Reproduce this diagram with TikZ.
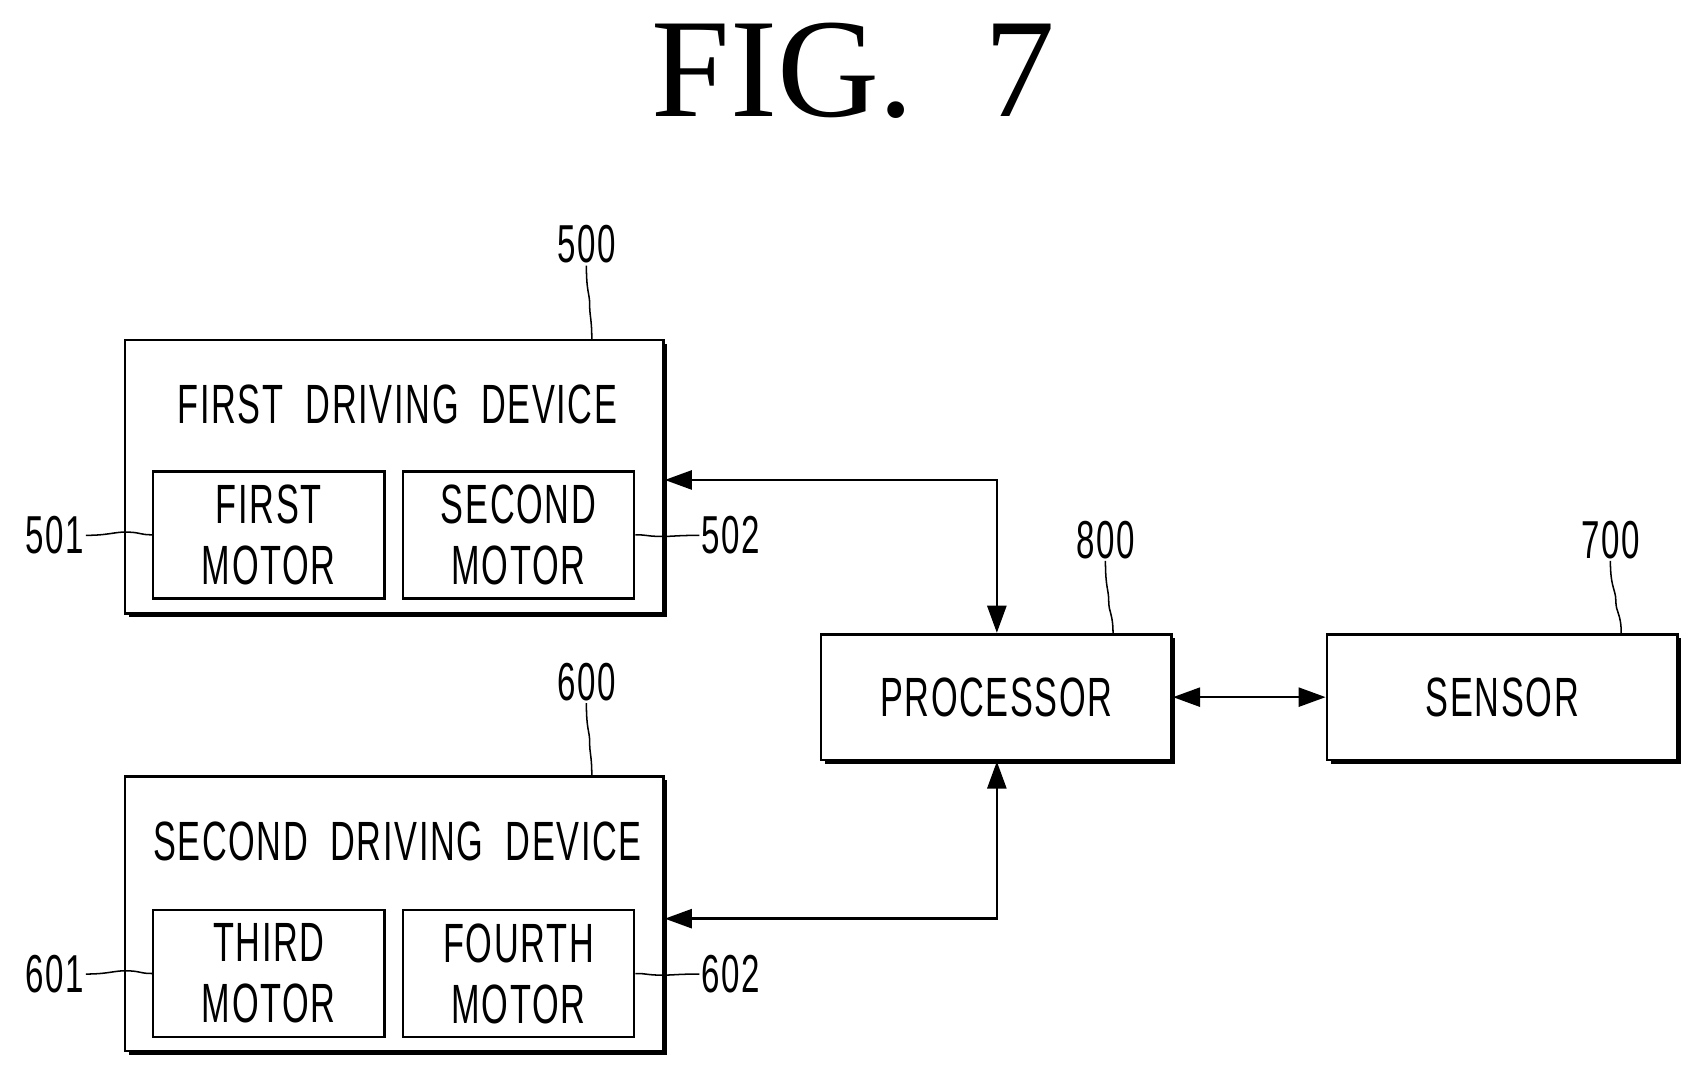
\documentclass[tikz,border=0pt]{standalone}
\usepackage{fontspec}
\setmainfont{Liberation Sans}[FakeStretch=0.62,LetterSpace=3]
\newfontfamily\titlefont{Liberation Serif}
\usetikzlibrary{shadows,arrows.meta}
\begin{document}
\begin{tikzpicture}[x=0.02cm,y=-0.02cm,
  box/.style={draw,line width=1.4pt,fill=white,inner sep=0pt,
    drop shadow={shadow xshift=0.07cm,shadow yshift=-0.07cm,fill=black,opacity=1}},
  mbox/.style={draw,line width=1.4pt,fill=white,inner sep=0pt,minimum width=4.26cm,minimum height=2.34cm,align=center,font=\fontsize{29}{32}\selectfont},
  txt/.style={font=\fontsize{29}{32}\selectfont,inner sep=0pt},
  lab/.style={font=\fontsize{28}{30}\selectfont,inner sep=1pt},
  sq/.style={line width=0.8pt},
  arr/.style={line width=1.4pt,{Triangle[length=0.5cm,width=0.35cm]}-{Triangle[length=0.5cm,width=0.35cm]}}]
\useasboundingbox (0,0) rectangle (1560,987);
\node[inner sep=0pt,font=\titlefont\fontsize{74}{80}\selectfont] (title) at (786,65) {FIG.\ \ 7};
% first device
\node[box,minimum width=9.92cm,minimum height=5.04cm] (d5) at (363,439) {};
\node[txt] (d5t) at (366,372) {FIRST\ \ DRIVING\ \ DEVICE};
\node[mbox] (m1) at (247.5,492.5) {FIRST\\MOTOR};
\node[mbox] (m2) at (477.5,492.5) {SECOND\\MOTOR};
% second device
\node[box,minimum width=9.92cm,minimum height=5.06cm] (d6) at (363,841.5) {};
\node[txt] (d6t) at (366,775) {SECOND\ \ DRIVING\ \ DEVICE};
\node[mbox] (m3) at (247.5,896.5) {THIRD\\MOTOR};
\node[mbox] (m4) at (477.5,896.5) {FOURTH\\MOTOR};
% processor, sensor
\node[box,minimum width=6.46cm,minimum height=2.32cm,txt] (p) at (917.5,642) {PROCESSOR};
\node[box,minimum width=6.46cm,minimum height=2.32cm,txt] (s) at (1383.5,642) {SENSOR};
% connectors
\coordinate (c1) at (918,442);
\coordinate (c2) at (918,846);
\draw[arr] (d5.east|-c1) -- (c1) -- (p.north-|c1);
\draw[arr] (d6.east|-c2) -- (c2) -- (p.south-|c2);
\draw[arr] (p.east) -- (s.west);
% labels
\node[lab] (l500) at (540,225) {500};
\node[lab] (l600) at (540,628) {600};
\node[lab] (l800) at (1018,497) {800};
\node[lab] (l700) at (1483,497) {700};
\node[lab] (l501) at (50,493) {501};
\node[lab] (l502) at (673,493) {502};
\node[lab] (l601) at (50,897) {601};
\node[lab] (l602) at (673,897) {602};
\draw[sq] (l500.south) .. controls +(0,25) and +(0,-10) .. (543,280) .. controls +(0,12) and +(0,-20) .. (545,313);
\draw[sq] (l600.south) .. controls +(0,25) and +(0,-10) .. (543,683) .. controls +(0,12) and +(0,-20) .. (545,715);
\draw[sq] (l800.south) .. controls +(0,25) and +(0,-10) .. (1021,553) .. controls +(0,12) and +(0,-20) .. (1025,584);
\draw[sq] (l700.south) .. controls +(0,25) and +(0,-10) .. (1488,553) .. controls +(0,12) and +(0,-20) .. (1493,584);
\draw[sq] (l501.east) .. controls +(20,0) and +(-10,0) .. (115,490) .. controls +(15,0) and +(-12,0) .. (m1.west);
\draw[sq] (l601.east) .. controls +(20,0) and +(-10,0) .. (115,894) .. controls +(15,0) and +(-12,0) .. (m3.west);
\draw[sq] (m2.east) .. controls +(12,0) and +(-15,0) .. (610,494) .. controls +(10,0) and +(-20,0) .. (l502.west);
\draw[sq] (m4.east) .. controls +(12,0) and +(-15,0) .. (610,898) .. controls +(10,0) and +(-20,0) .. (l602.west);
\end{tikzpicture}
\end{document}
